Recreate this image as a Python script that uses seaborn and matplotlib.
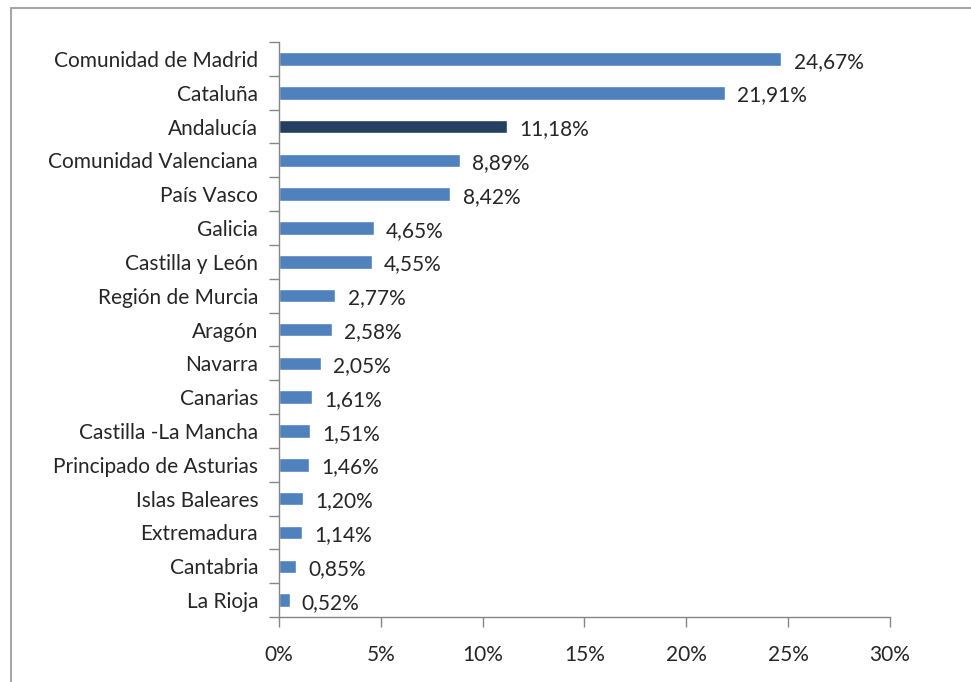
import numpy as np
import pandas as pd
import seaborn as sns
import matplotlib.pyplot as plt
from matplotlib.patches import Rectangle
from matplotlib.ticker import FixedLocator

# --- data ---
regions = [
    "Comunidad de Madrid", "Cataluña", "Andalucía", "Comunidad Valenciana",
    "País Vasco", "Galicia", "Castilla y León", "Región de Murcia", "Aragón",
    "Navarra", "Canarias", "Castilla -La Mancha", "Principado de Asturias",
    "Islas Baleares", "Extremadura", "Cantabria", "La Rioja",
]
shares = [24.67, 21.91, 11.18, 8.89, 8.42, 4.65, 4.55, 2.77, 2.58,
          2.05, 1.61, 1.51, 1.46, 1.20, 1.14, 0.85, 0.52]
highlight = "Andalucía"
x_ticks = [0, 5, 10, 15, 20, 25, 30]

df = pd.DataFrame({"region": regions, "share": shares})
palette = {r: ("#243F60" if r == highlight else "#4F81BD") for r in regions}

sns.set_theme(style="white")
plt.rcParams["font.family"] = ["Lato", "DejaVu Sans"]
fs = 15

fig = plt.figure(figsize=(9.71, 6.82), dpi=100)
ax = fig.add_axes([0.2873, 0.0953, 0.6293, 0.8431])

sns.barplot(data=df, y="region", x="share", hue="region", palette=palette,
            orient="h", width=0.4, legend=False, ax=ax, saturation=1)

# value labels
for i, v in enumerate(shares):
    ax.text(v + 0.6, i + 0.08, f"{v:.2f}%".replace(".", ","), va="center",
            ha="left", fontsize=fs, color="#262626")

ax.set_xlim(0, 30)
ax.set_ylim(len(regions) - 0.5, -0.5)
ax.set_xticks(x_ticks)
ax.set_xticklabels([f"{t}%" for t in x_ticks], fontsize=fs, color="#262626")
ax.tick_params(axis="y", labelsize=fs, labelcolor="#262626", length=0, pad=15)
ax.yaxis.set_minor_locator(FixedLocator(np.arange(-0.5, len(regions), 1)))
ax.tick_params(axis="y", which="minor", length=7, color="#868686", width=1, left=True)
ax.tick_params(axis="x", length=7, color="#868686", width=1, bottom=True, pad=13)
ax.set_xlabel("")
ax.set_ylabel("")

for s in ["top", "right"]:
    ax.spines[s].set_visible(False)
for s in ["left", "bottom"]:
    ax.spines[s].set_color("#868686")
    ax.spines[s].set_linewidth(1)

# outer chart frame
fig.patches.append(Rectangle((11 / 971, -0.05), 1.1, 1.05 - 8 / 682,
                             transform=fig.transFigure, fill=False,
                             edgecolor="#A6A6A6", linewidth=1.5))

fig.savefig("out.png", dpi=100)
